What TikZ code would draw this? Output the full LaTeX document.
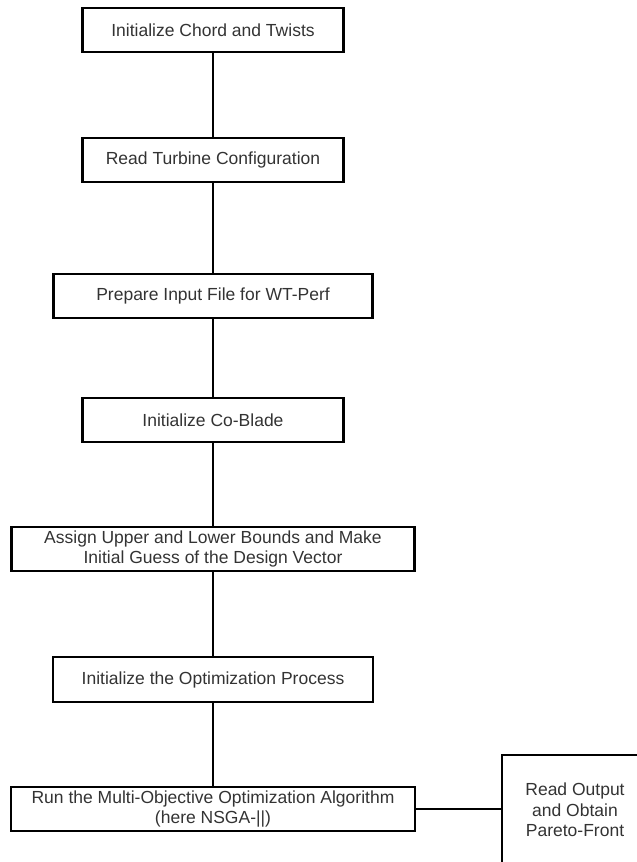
\documentclass[tikz,border=0pt]{standalone}
\usepackage{fontspec}
\setmainfont{Liberation Sans}
\usetikzlibrary{positioning}

\begin{document}
\begin{tikzpicture}[x=1pt,y=-1pt,
  flowbox/.style={draw=black,line width=2.8pt,rectangle,inner sep=0pt,align=center,text=black!80,font=\fontsize{17.5}{20.5}\selectfont,minimum height=44pt},
  flowline/.style={black,line width=2.8pt}]
\useasboundingbox (0,0) rectangle (637,862);
\node[flowbox,minimum width=261pt] (chord) at (213,30) {Initialize Chord and Twists};
\node[flowbox,minimum width=261pt] (turbine) at (213,160) {Read Turbine Configuration};
\node[flowbox,minimum width=319pt] (wtperf) at (213,296) {Prepare Input File for WT-Perf};
\node[flowbox,minimum width=261pt] (coblade) at (213,420) {Initialize Co-Blade};
\node[flowbox,minimum width=403pt] (bounds) at (213,549) {Assign Upper and Lower Bounds and Make\\Initial Guess of the Design Vector};
\node[flowbox,minimum width=320pt,minimum height=45pt] (optinit) at (213,679.5) {Initialize the Optimization Process};
\node[flowbox,minimum width=404pt] (nsga) at (213,809) {Run the Multi-Objective Optimization Algorithm\\(here NSGA-||)};
\node[flowbox,minimum width=146pt,minimum height=110pt] (pareto) at (575,810) {Read Output\\and Obtain\\Pareto-Front};

\draw[flowline] (chord) -- (turbine);
\draw[flowline] (turbine) -- (wtperf);
\draw[flowline] (wtperf) -- (coblade);
\draw[flowline] (coblade) -- (bounds);
\draw[flowline] (bounds) -- (optinit);
\draw[flowline] (optinit) -- (nsga);
\draw[flowline] (nsga.east) -- (nsga.east -| pareto.west);
\end{tikzpicture}
\end{document}
